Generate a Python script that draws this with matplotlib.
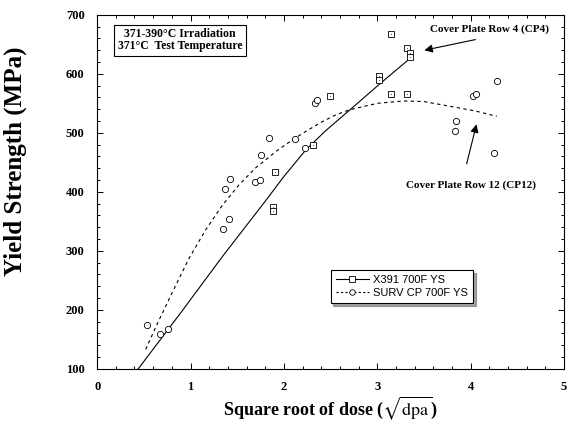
import matplotlib
matplotlib.use("Agg")
import matplotlib.pyplot as plt
from matplotlib.ticker import MultipleLocator

plt.rcParams['font.family'] = ['Liberation Serif', 'DejaVu Serif']
plt.rcParams['mathtext.fontset'] = 'stix'

# X391 700F YS (squares)
x391_x = [1.90, 1.88, 1.88, 2.31, 2.49, 3.02, 3.02, 3.15, 3.15, 3.32, 3.35, 3.35, 3.32]
x391_y = [434, 374, 367, 480, 563, 597, 589, 668, 565, 644, 635, 628, 565]

# SURV CP 700F YS (circles)
surv_x = [0.53, 0.67, 0.76, 1.35, 1.41, 1.37, 1.42, 1.69, 1.74, 1.75, 1.84,
          2.12, 2.23, 2.33, 2.35, 3.83, 3.84, 4.02, 4.06, 4.25, 4.28]
surv_y = [175, 159, 168, 337, 354, 405, 422, 416, 420, 463, 491,
          489, 474, 551, 555, 503, 520, 563, 566, 466, 588]

# trend curves
x391_fit_x = [0.44, 0.90, 1.34, 1.80, 2.00, 2.24, 2.45, 2.70, 3.02, 3.35]
x391_fit_y = [100, 196, 290, 384, 426, 472, 504, 538, 582, 626]

surv_fit_x = [0.52, 0.64, 0.80, 0.98, 1.16, 1.34, 1.52, 1.70, 1.92, 2.09, 2.24,
              2.40, 2.55, 2.70, 3.00, 3.28, 3.50, 3.78, 4.05, 4.28]
surv_fit_y = [133, 175, 228, 286, 335, 377, 412, 441, 469, 488, 503,
              518, 530, 539, 550, 554, 553, 545, 537, 528]

fig = plt.figure(figsize=(5.68, 4.36), dpi=100)
ax = fig.add_axes([0.171, 0.154, 0.822, 0.812])

ax.plot(x391_fit_x, x391_fit_y, color='black', lw=0.8)
ax.plot(surv_fit_x, surv_fit_y, color='black', lw=0.8, dashes=(3, 3))
ax.plot(x391_x, x391_y, ls='none', marker='s', ms=4.5, mfc='white', mec='black', mew=0.6)
ax.plot(x391_x, x391_y, ls='none', marker='o', ms=0.8, mfc='#555555', mec='none')
ax.plot(surv_x, surv_y, ls='none', marker='o', ms=4.5, mfc='white', mec='black', mew=0.6)

# legend handles
h1, = ax.plot([], [], color='black', lw=0.8, marker='s', ms=4.5, mfc='white', mec='black', mew=0.6)
h2, = ax.plot([], [], color='black', lw=0.8, dashes=(2, 2), marker='o', ms=4, mfc='white', mec='black', mew=0.6)
leg = ax.legend([h1, h2], ['X391 700F YS', 'SURV CP 700F YS'], loc='upper left',
                bbox_to_anchor=(0.488, 0.294), prop={'family': 'Liberation Sans', 'size': 8},
                frameon=True, fancybox=False, shadow=True, handlelength=3,
                borderpad=0.45, labelspacing=0.25, handletextpad=0.4)
leg.get_frame().set_edgecolor('black')
leg.get_frame().set_linewidth(0.8)

ax.set_xlim(0, 5)
ax.set_ylim(100, 700)
ax.xaxis.set_major_locator(MultipleLocator(1))
ax.xaxis.set_minor_locator(MultipleLocator(0.2))
ax.yaxis.set_major_locator(MultipleLocator(100))
ax.yaxis.set_minor_locator(MultipleLocator(20))
ax.tick_params(which='both', direction='in', top=True, right=True, width=0.7)
ax.tick_params(which='major', length=4, pad=9, labelsize=9)
ax.tick_params(which='minor', length=2.5)
for lab in ax.get_xticklabels() + ax.get_yticklabels():
    lab.set_fontweight('bold')
for s in ax.spines.values():
    s.set_linewidth(0.8)

ax.set_xlabel(r'Square root of dose ($\sqrt{\mathrm{dpa}}$)', fontsize=13, fontweight='bold', labelpad=1)
ax.set_ylabel('Yield Strength (MPa)', fontsize=18, fontweight='bold')
ax.yaxis.set_label_coords(-0.15, 0.585)

ax.text(0.887, 657, '371-390\u00b0C Irradiation\n371\u00b0C  Test Temperature',
        ha='center', va='center', fontsize=8.5, fontweight='bold', linespacing=0.95,
        bbox=dict(boxstyle='square,pad=0.3', fc='white', ec='black', lw=0.8))

ax.text(4.20, 676, 'Cover Plate Row 4 (CP4)', ha='center', va='center', fontsize=8, fontweight='bold')
ax.annotate('', xy=(3.475, 639), xytext=(4.08, 659),
            arrowprops=dict(arrowstyle='-|>', color='black', lw=0.8, mutation_scale=12))
ax.text(4.00, 412, 'Cover Plate Row 12 (CP12)', ha='center', va='center', fontsize=8, fontweight='bold')
ax.annotate('', xy=(4.07, 519), xytext=(3.95, 443),
            arrowprops=dict(arrowstyle='-|>', color='black', lw=0.8, mutation_scale=12))

fig.savefig('out.png', dpi=100)
